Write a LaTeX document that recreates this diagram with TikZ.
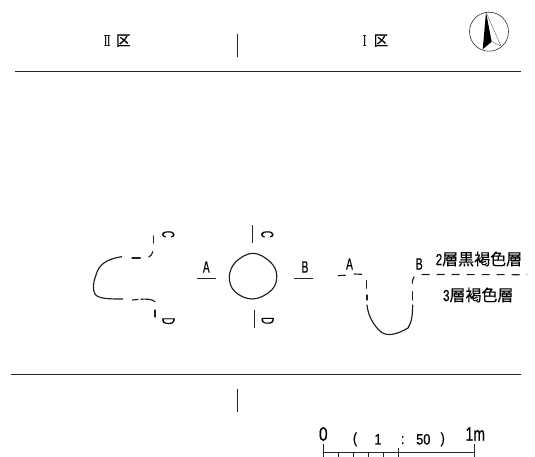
\documentclass[tikz,border=0pt]{standalone}
\usepackage{graphicx}
\usepackage{fontspec}
\setmainfont[FakeBold=0.5]{Liberation Sans}
\newfontfamily\cjk[FakeBold=0.25]{Noto Sans CJK JP}
\newfontfamily\rom{DejaVu Serif}
\newcommand{\nar}[1]{\scalebox{.72}[1]{#1}}
\newcommand{\midn}[1]{\scalebox{.85}[1]{#1}}
\newcommand{\lbl}[1]{\scalebox{.62}[1]{#1}}
\newcommand{\cdl}[1]{\scalebox{.55}[1]{#1}}
\tikzset{
 ln/.style={line width=1pt,black!85},
 sld/.style={line width=1.15pt,black!88,line cap=round},
 jp/.style={inner sep=0pt,text=black,font=\cjk\fontsize{16}{16}\selectfont},
 ku/.style={inner sep=0pt,text=black,font=\cjk\fontsize{14.5}{14.5}\selectfont},
 rn/.style={inner sep=0pt,text=black,font=\rom\fontsize{15}{15}\selectfont},
 lab/.style={inner sep=0pt,text=black,font=\fontsize{16.5}{16.5}\selectfont},
 cd/.style={inner sep=0pt,text=black,rotate=-90,font=\fontsize{17.5}{17.5}\selectfont},
 big/.style={inner sep=0pt,text=black,font=\fontsize{19.5}{19.5}\selectfont},
 mid/.style={inner sep=0pt,text=black,font=\fontsize{15}{15}\selectfont},
}
\begin{document}
\begin{tikzpicture}[x=1pt,y=-1pt]
\useasboundingbox (0,0) rectangle (535,457);
% frame
\draw[ln] (15,71.7) -- (521,71.7);
\draw[ln] (11,374.5) -- (521,374.5);
\draw[ln] (237.3,34) -- (237.3,56.7);
\draw[ln] (237.7,389) -- (237.7,412.3);
\node[rn] (t2) at (107.3,40.7) {\nar{Ⅱ}};
\node[ku] (k2) at (123.3,40.7) {区};
\node[rn] (t1) at (364.7,40.7) {\nar{Ⅰ}};
\node[ku] (k1) at (381,40.7) {区};
% north
\draw[line width=.6pt,black!80] (489,31.7) circle (19.5);
\fill[black] (486,12.3) -- (482.7,49.3) -- (491.7,41.7) -- cycle;
\draw[line width=.4pt,black!60] (486,12.3) -- (501,46) -- (491.7,41.7);
% plan
\draw[sld] (153.3,236) -- (153.3,243);
\draw[sld] (152.7,251.7) .. controls (152.5,254) and (151,256) .. (148.7,257);
\draw[sld] (132,258) -- (140.3,258);
\draw[sld] (121.7,256.7) .. controls (107,259) and (99,264) .. (96,275) .. controls (93,282) and (92.5,290) .. (95,294) .. controls (98,299) and (110,299) .. (122.7,299);
\draw[sld] (132.3,300) -- (138,299.5);
\draw[sld] (141,299.2) .. controls (147,299) and (152,299) .. (155,301.7);
\draw[sld] (155,310) -- (155,317);
\node[cd] (c1) at (168.3,234.3) {\cdl{C}};
\node[cd] (d1) at (168.5,321) {\cdl{D}};
% pit circle
\draw[sld] plot[smooth cycle,tension=.65] coordinates {(253,253.3)(270,261.7)(276.7,275)(271.7,290)(253,299)(235,291.7)(229.3,276.7)(236,261.7)};
\draw[ln] (252.7,225) -- (252.7,243.3);
\draw[ln] (254.7,310) -- (254.7,328.3);
\draw[ln] (196.7,278) -- (215.7,278);
\draw[ln] (294,278) -- (313,278);
\node[lab] (a1) at (206.3,267) {\lbl{A}};
\node[lab] (b1) at (305,267) {\lbl{B}};
\node[cd] (c2) at (267.3,234.3) {\cdl{C}};
\node[cd] (d2) at (267.7,320.7) {\cdl{D}};
% section
\draw[sld] (338.3,275.7) -- (345.3,275.2);
\draw[sld] (354.3,274) -- (361.7,274.3);
\draw[sld] (366.7,280.7) -- (366.7,288.3);
\draw[sld] (367,295) -- (367,300);
\draw[sld] (367,305) .. controls (368,316) and (374,326) .. (381,332) .. controls (388,337) and (398,334) .. (408,328) .. controls (412,322) and (412.5,314) .. (412.7,305);
\draw[sld] (412.3,291.7) -- (412.3,300);
\draw[sld] (412.3,283.3) .. controls (412.3,281) and (413,278.5) .. (414,276.7);
\draw[sld,line cap=butt,dash pattern=on 8pt off 7pt] (421.7,274.5) -- (527,274.7);
\node[lab] (a2) at (349.5,264) {\lbl{A}};
\node[lab] (b2) at (419.3,264) {\lbl{B}};
\node[jp] (l2) at (479,259) {\nar{\fontspec[FakeBold=0.5]{Liberation Sans}2}層黒褐色層};
\node[jp] (l3) at (478.3,295) {\nar{\fontspec[FakeBold=0.5]{Liberation Sans}3}層褐色層};
% scale
\coordinate (s0) at (323.3,452.3);
\coordinate (s1) at (474.7,452.3);
\draw[ln] (s0) -- (s1);
\draw[ln] (323.3,444) -- (323.3,456.7);
\draw[ln] (474.7,444) -- (474.7,456.7);
\draw[ln] (398.7,448) -- (398.7,456.7);
\foreach \x in {338.3,353.3,368.3,383.3} \draw[ln] (\x,452.3) -- (\x,456.7);
\node[big] (z) at (323.3,434) {\scalebox{.8}[1]{0}};
\node[big] (m) at (475.3,434) {\nar{1m}};
\node[mid] (p1) at (355,439.3) {\midn{(}};
\node[mid] (n1) at (378,439.3) {\midn{1}};
\node[mid] (cl) at (402.7,440) {\midn{:}};
\node[mid] (n5) at (423.3,439.3) {\midn{50}};
\node[mid] (p2) at (442.7,439.3) {\midn{)}};
\end{tikzpicture}
\end{document}
